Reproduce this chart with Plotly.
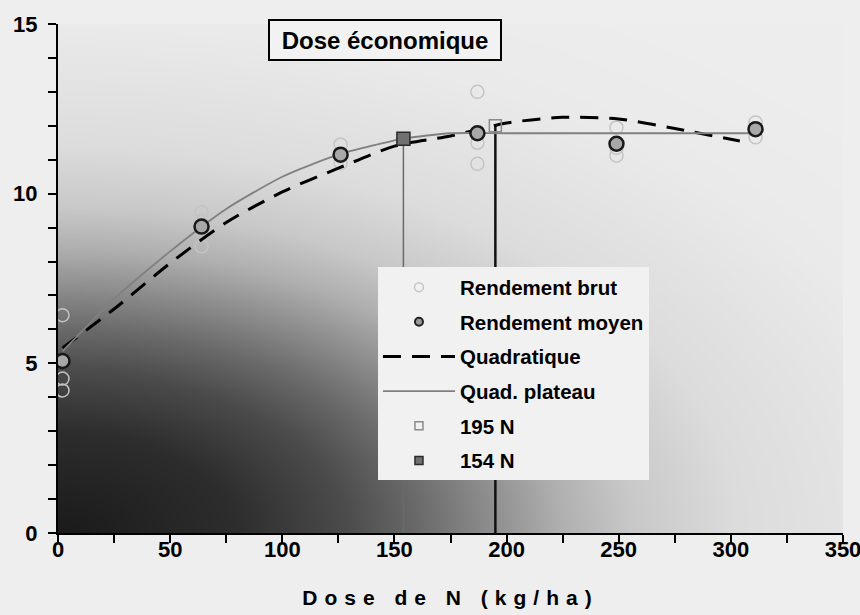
import numpy as np
import plotly.graph_objects as go

# ---------------- data ----------------
doses = [2, 64, 126, 187, 249, 311]
raw_x = [2, 2, 2, 64, 64, 64, 126, 126, 126, 187, 187, 187, 249, 249, 249, 311, 311, 311]
raw_y = [6.42, 4.55, 4.2, 9.45, 9.2, 8.45, 11.45, 11.1, 10.9, 13.0, 11.5, 10.88,
         11.95, 11.35, 11.12, 12.1, 11.9, 11.66]
mean_y = [5.07, 9.03, 11.15, 11.78, 11.47, 11.9]

quad_x = [2, 25, 50, 75, 100, 125, 150, 175, 200, 225, 250, 275, 304]
quad_y = [5.45, 6.6, 7.95, 9.15, 10.05, 10.75, 11.4, 11.7, 12.08, 12.25, 12.2, 11.92, 11.55]

qp_x = [2, 25, 50, 75, 100, 125, 154, 175, 200, 250, 311]
qp_y = [5.35, 6.9, 8.3, 9.55, 10.5, 11.15, 11.62, 11.78, 11.78, 11.78, 11.78]

econ_names = ["195 N", "154 N"]
econ_x = [195, 154]
econ_y = [12.0, 11.62]

legend_names = ["Rendement brut", "Rendement moyen", "Quadratique", "Quad. plateau",
                econ_names[0], econ_names[1]]

x_tickvals = list(range(0, 351, 25))
x_ticktext = [str(v) if v % 50 == 0 else "" for v in x_tickvals]
y_tickvals = list(range(0, 16))
y_ticktext = [str(v) if v % 5 == 0 else "" for v in y_tickvals]

FONT = "Liberation Sans, Arial, sans-serif"

# ---------------- background gradient (decoration) ----------------
gx = np.linspace(0, 350, 141)
gy = np.linspace(0, 15, 76)
GX, GY = np.meshgrid(gx, gy)
gd = np.sqrt((GX / 160.0) ** 2 + (GY / 6.0) ** 2)


def g(v):
    return 'rgb(%d,%d,%d)' % (v, v, v)


gscale = [[0, g(26)], [0.1667, g(45)], [0.2667, g(75)], [0.3333, g(105)],
          [0.4, g(140)], [0.4667, g(175)], [0.5333, g(200)], [0.6333, g(220)],
          [0.8333, g(234)], [1, g(237)]]

fig = go.Figure()
fig.add_trace(go.Heatmap(x=gx, y=gy, z=gd, zmin=0, zmax=3, colorscale=gscale,
                         zsmooth='best', showscale=False, hoverinfo='skip',
                         showlegend=False))

# vertical lines at the economic doses
fig.add_trace(go.Scatter(x=[econ_x[1], econ_x[1]], y=[0, econ_y[1]], mode='lines',
                         line=dict(color='#6a6a6a', width=1.5), showlegend=False,
                         hoverinfo='skip'))
fig.add_trace(go.Scatter(x=[econ_x[0], econ_x[0]], y=[0, econ_y[0]], mode='lines',
                         line=dict(color='#111111', width=2.5), showlegend=False,
                         hoverinfo='skip'))

raw_marker = dict(symbol='circle-open', color='#c4c4c4', line=dict(width=1.5))
mean_marker = dict(symbol='circle', color='#a8a8a8', line=dict(color='#1a1a1a', width=2.5))
quad_line = dict(color='black', width=3, dash='18px,11px')
qp_line = dict(color='#808080', width=1.8)
o195_marker = dict(symbol='square-open', color='#8a8a8a', line=dict(width=1.5))
f154_marker = dict(symbol='square', color='#707070', line=dict(color='#2a2a2a', width=1.5))

fig.add_trace(go.Scatter(x=raw_x, y=raw_y, mode='markers', showlegend=False,
                         marker=dict(size=13, **raw_marker)))
fig.add_trace(go.Scatter(x=quad_x, y=quad_y, mode='lines', showlegend=False,
                         line=dict(shape='spline', smoothing=0.8, **quad_line)))
fig.add_trace(go.Scatter(x=qp_x, y=qp_y, mode='lines', showlegend=False,
                         line=dict(shape='spline', smoothing=0.6, **qp_line)))
fig.add_trace(go.Scatter(x=doses, y=mean_y, mode='markers', showlegend=False,
                         marker=dict(size=14, **mean_marker)))
fig.add_trace(go.Scatter(x=[econ_x[0]], y=[econ_y[0]], mode='markers', showlegend=False,
                         marker=dict(size=12, **o195_marker)))
fig.add_trace(go.Scatter(x=[econ_x[1]], y=[econ_y[1]], mode='markers', showlegend=False,
                         marker=dict(size=13, **f154_marker)))

# legend entries (smaller symbols as in the original legend)
leg_specs = [
    dict(mode='markers', marker=dict(size=9, **raw_marker)),
    dict(mode='markers', marker=dict(size=8, symbol='circle', color='#999999',
                                     line=dict(color='#222222', width=2))),
    dict(mode='lines', line=quad_line),
    dict(mode='lines', line=qp_line),
    dict(mode='markers', marker=dict(size=8, **o195_marker)),
    dict(mode='markers', marker=dict(size=8, **f154_marker)),
]
for i, (nm, spec) in enumerate(zip(legend_names, leg_specs)):
    fig.add_trace(go.Scatter(x=[None], y=[None], name=nm, legendgroup='g%d' % i,
                             hoverinfo='skip', **spec))

fig.update_layout(
    width=860, height=615,
    margin=dict(l=58, r=17, t=24, b=82, autoexpand=False),
    paper_bgcolor='#eeeeee', plot_bgcolor='#ededed',
    font=dict(family=FONT, color='black'),
    showlegend=True,
    legend=dict(x=0.4076, y=0.522, xanchor='left', yanchor='top',
                bgcolor='#f1f1f1', borderwidth=0, traceorder='grouped',
                tracegroupgap=5, itemwidth=72,
                font=dict(family=FONT, size=20.5, color='black', weight='bold')),
    xaxis=dict(range=[0, 350], showgrid=False, zeroline=False, showline=True,
               linecolor='black', linewidth=2, ticks='outside', ticklen=8,
               tickwidth=2, tickcolor='black', tickmode='array',
               tickvals=x_tickvals, ticktext=x_ticktext, automargin=False,
               ticklabeloverflow='allow', ticklabelstandoff=-12,
               tickfont=dict(family=FONT, size=22, weight='bold'),
               title=dict(text='<span style="letter-spacing:7px">Dose de N (kg/ha)</span>',
                          font=dict(family=FONT, size=21, weight='bold'), standoff=29)),
    yaxis=dict(range=[0, 15], showgrid=False, zeroline=False, showline=True,
               linecolor='black', linewidth=2, ticks='outside', ticklen=8,
               tickwidth=2, tickcolor='black', tickmode='array',
               tickvals=y_tickvals, ticktext=y_ticktext, ticklabelstandoff=6,
               automargin=False, ticklabeloverflow='allow',
               tickfont=dict(family=FONT, size=22, weight='bold')),
    annotations=[dict(xref='paper', yref='paper', x=0.4166, y=0.9686,
                      xanchor='center', yanchor='middle', showarrow=False,
                      text='<b>Dose économique</b>',
                      font=dict(family=FONT, size=24, color='black'),
                      bordercolor='black', borderwidth=2, borderpad=0,
                      bgcolor='#f2f2f2', width=230, height=38)],
)

fig.write_html("out.html", config={'displayModeBar': False},
               post_script="document.body.style.margin='0px';")
